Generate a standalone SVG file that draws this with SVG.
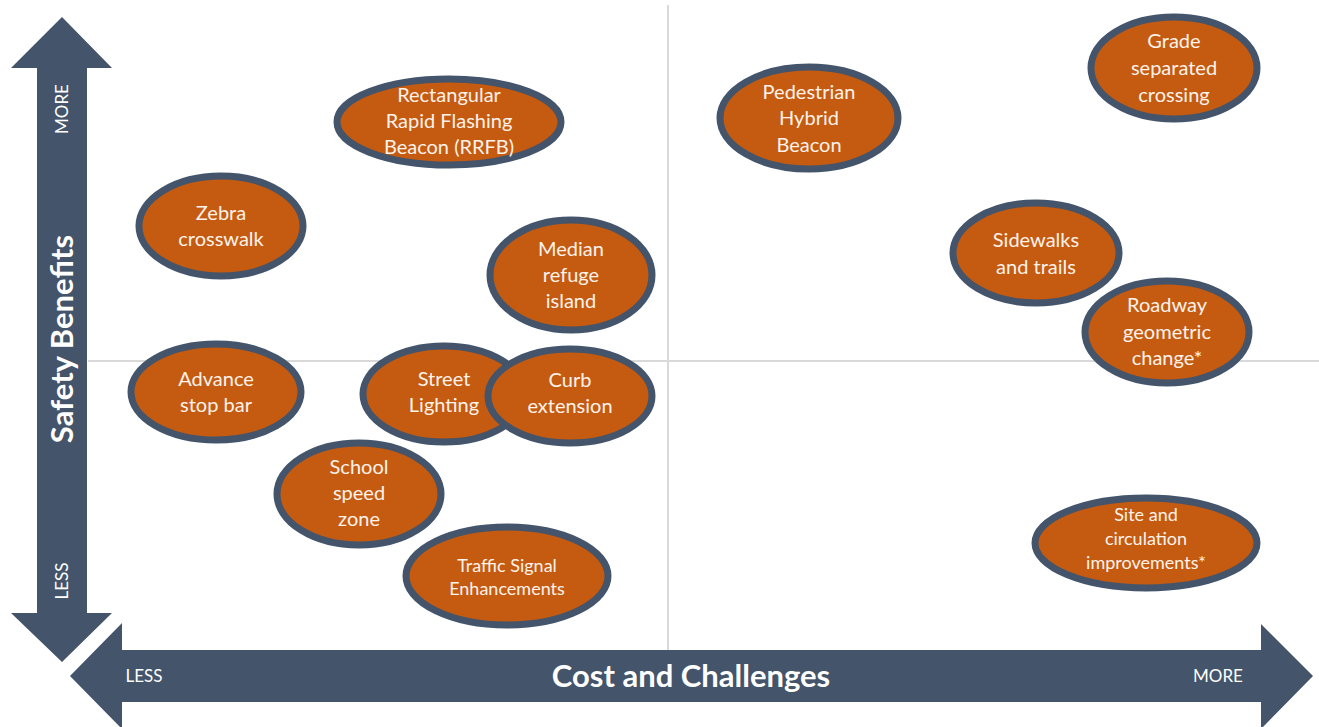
<svg xmlns="http://www.w3.org/2000/svg" width="1319" height="727" viewBox="0 0 1319 727">
<style>
.grid{stroke:#d9d9d9;stroke-width:2;fill:none}
.arrow{fill:#44546a}
.node ellipse{fill:#c55a11;stroke:#44546a;stroke-width:7}
.node text{font-family:Lato,"Liberation Sans",sans-serif;font-size:20px;fill:#fdf3ea;text-anchor:middle}
.node text.sm{font-size:18px}
.node text.md{font-size:18px}
.ax{font-family:Lato,"Liberation Sans",sans-serif;fill:#ffffff;text-anchor:middle}
.ax.big{font-size:31px;font-weight:bold}
.ax.small{font-size:17px}
</style>
<rect width="1319" height="727" fill="#ffffff"/>
<g id="gridlines">
<line class="grid" x1="668" y1="5" x2="668" y2="650"/>
<line class="grid" x1="88" y1="361" x2="1319" y2="361"/>
</g>
<g id="axes">
<g id="axis-safety">
<polygon class="arrow" points="62,17 112,68 87,68 87,613 112,613 62,662 11,613 37,613 37,68 11,68"/>
<text class="ax small" transform="translate(68,109) rotate(-90)">MORE</text>
<text class="ax small" transform="translate(68,581) rotate(-90)">LESS</text>
<text class="ax big" transform="translate(73,339) rotate(-90)">Safety Benefits</text>
</g>
<g id="axis-cost">
<polygon class="arrow" points="70,676 122,623 122,650 1261,650 1261,624 1313,676 1261,729 1261,702 122,702 122,729"/>
<text class="ax small" x="144" y="682">LESS</text>
<text class="ax small" x="1218" y="682">MORE</text>
<text class="ax big" x="691" y="687">Cost and Challenges</text>
</g>
</g>
<g id="nodes">
<g class="node" id="rrfb"><ellipse cx="449" cy="122" rx="112" ry="43"/>
<text x="449" y="102">Rectangular</text><text x="449" y="128">Rapid Flashing</text><text x="449" y="154">Beacon (RRFB)</text></g>
<g class="node" id="zebra"><ellipse cx="221" cy="226" rx="82" ry="50"/>
<text x="221" y="220">Zebra</text><text x="221" y="246">crosswalk</text></g>
<g class="node" id="median"><ellipse cx="571" cy="275" rx="81" ry="55"/>
<text x="571" y="256">Median</text><text x="571" y="282">refuge</text><text x="571" y="308">island</text></g>
<g class="node" id="advance"><ellipse cx="216" cy="392" rx="85" ry="48"/>
<text x="216" y="386">Advance</text><text x="216" y="412">stop bar</text></g>
<g class="node" id="lighting"><ellipse cx="444" cy="394" rx="81" ry="48"/>
<text x="444" y="386">Street</text><text x="444" y="412">Lighting</text></g>
<g class="node" id="curb"><ellipse cx="570" cy="396" rx="82" ry="47"/>
<text x="570" y="387">Curb</text><text x="570" y="413">extension</text></g>
<g class="node" id="school"><ellipse cx="359" cy="494" rx="82" ry="51"/>
<text x="359" y="474">School</text><text x="359" y="500">speed</text><text x="359" y="526">zone</text></g>
<g class="node" id="signal"><ellipse cx="507" cy="576" rx="101" ry="49"/>
<text class="sm" x="507" y="572">Traffic Signal</text><text class="sm" x="507" y="595">Enhancements</text></g>
<g class="node" id="phb"><ellipse cx="809" cy="118" rx="89" ry="51"/>
<text x="809" y="99">Pedestrian</text><text x="809" y="125">Hybrid</text><text x="809" y="152">Beacon</text></g>
<g class="node" id="grade"><ellipse cx="1174" cy="68" rx="83" ry="51"/>
<text x="1174" y="48">Grade</text><text x="1174" y="75">separated</text><text x="1174" y="102">crossing</text></g>
<g class="node" id="sidewalks"><ellipse cx="1036" cy="253" rx="83" ry="50"/>
<text x="1036" y="247">Sidewalks</text><text x="1036" y="274">and trails</text></g>
<g class="node" id="roadway"><ellipse cx="1167" cy="332" rx="82" ry="51"/>
<text x="1167" y="312">Roadway</text><text x="1167" y="339">geometric</text><text x="1167" y="365">change*</text></g>
<g class="node" id="site"><ellipse cx="1146" cy="543" rx="111" ry="45"/>
<text class="md" x="1146" y="521">Site and</text><text class="md" x="1146" y="545">circulation</text><text class="md" x="1146" y="569">improvements*</text></g>
</g>
</svg>
